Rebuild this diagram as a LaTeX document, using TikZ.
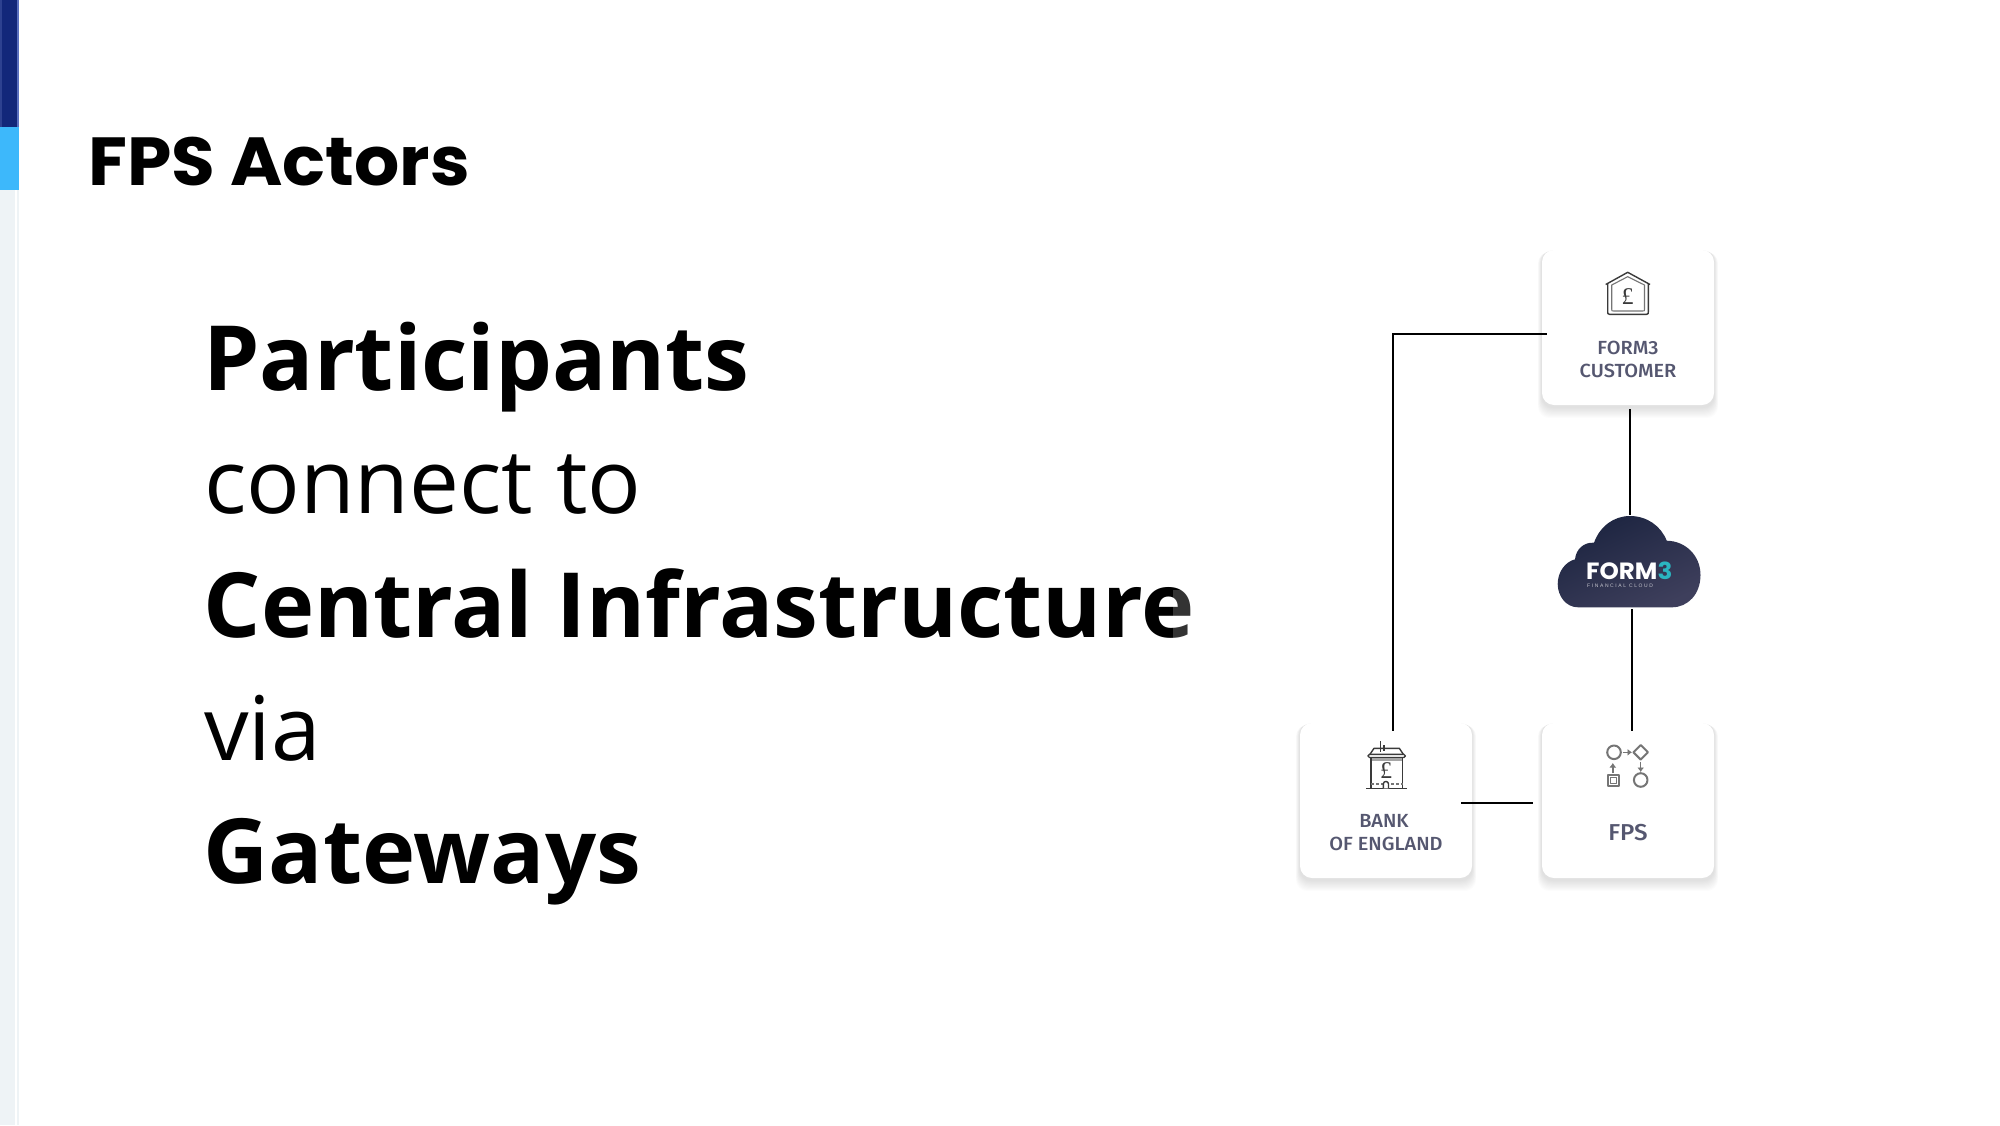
\documentclass[tikz,border=0pt]{standalone}
\usepackage{fontspec}
\usetikzlibrary{backgrounds,calc,arrows.meta}
\setmainfont{Open Sans}
\newfontfamily\titlefont{Poppins}[FakeStretch=1.045]
\newfontfamily\labelfont{Fira Sans Medium}[FakeStretch=1.05]
\newfontfamily\poundfont{Liberation Serif}
\newfontfamily\tinyfont{Liberation Sans}[LetterSpace=32]
\definecolor{sbdark}{HTML}{12277A}
\definecolor{sbedge}{HTML}{2D4190}
\definecolor{sbedgeb}{HTML}{5A70C0}
\definecolor{sblight}{HTML}{3DB8FB}
\definecolor{sbpale}{HTML}{EEF3F6}
\definecolor{labelc}{HTML}{555770}
\definecolor{clouda}{HTML}{1C2440}
\definecolor{cloudb}{HTML}{3E3F5C}
\definecolor{tealc}{HTML}{2BB5C0}
\definecolor{iconc}{HTML}{3A3A3A}
\tikzset{
  card/.style={rectangle,rounded corners=12pt,fill=white,minimum width=172pt,minimum height=155pt,inner sep=0pt},
  boldline/.style={anchor=base west,inner sep=0pt,font=\fontsize{90}{90}\selectfont\bfseries,text=black},
  lightline/.style={anchor=base west,inner sep=0pt,font=\fontsize{89}{89}\selectfont,text=black},
  cardlabel/.style={anchor=base,inner sep=0pt,font=\fontsize{19}{19}\selectfont\labelfont,text=labelc},
  link/.style={draw=black,line width=2pt},
  icon/.style={draw=iconc,line width=1.4pt,line join=round},
  iconthin/.style={draw=iconc!70,line width=1.1pt,line join=round},
  fpsicon/.style={draw=iconc!70,line width=2pt,line join=round},
  pound/.style={inner sep=0pt,text=iconc,font=\poundfont}
}
\newcommand{\softshadow}[1]{%
  \foreach \g in {1,...,10}{%
    \fill[black,opacity=0.011,rounded corners=12pt]
      ([shift={(-\g*0.4,\g*0.2)}]#1.north west) rectangle ([shift={(\g*0.4,\g*1.1+2)}]#1.south east);
  }%
}
\begin{document}
\begin{tikzpicture}[x=1pt,y=-1pt]
\useasboundingbox (0,0) rectangle (2000,1125);
% sidebar
\fill[sbpale] (0,190) rectangle (15,1125);
\fill[sbpale] (17,190) rectangle (19,1125);
\fill[sbdark] (0,0) rectangle (19,127);
\fill[sbedge] (0,0) rectangle (2,127);
\fill[sbedgeb] (17,0) rectangle (19,127);
\fill[sblight] (0,127) rectangle (19,190);
% title
\node[anchor=base west,inner sep=0pt,font=\fontsize{68}{68}\selectfont\titlefont\bfseries] (title) at (88,185) {FPS Actors};
% body
\node[boldline] (l1) at (203,390) {Participants};
\node[lightline] (l2) at (204,513) {connect to};
\node[boldline] (l3) at (203.5,637) {Central Infrastructure};
\node[lightline] (l4) at (204,760) {via};
\node[boldline] (l5) at (203.5,883) {Gateways};
\fill[white,opacity=0.2] (1173,590) rectangle (1200,645);
% cards
\node[card] (cust) at (1628,327.5) {};
\node[card] (bank) at (1386,800.5) {};
\node[card] (fps) at (1628,800.5) {};
\begin{scope}[on background layer]
  \fill[white] (0,0) rectangle (2000,1125);
  \softshadow{cust}
  \softshadow{bank}
  \softshadow{fps}
\end{scope}
\node[cardlabel] (custa) at (1628,354) {FORM3};
\node[cardlabel] (custb) at (1628,377) {CUSTOMER};
\node[cardlabel] (banka) at (1384,827) {BANK};
\node[cardlabel] (bankb) at (1386,850) {OF ENGLAND};
\node[cardlabel,font=\fontsize{23}{23}\selectfont\labelfont] (fpsl) at (1628,840.5) {FPS};
% cloud
\node[inner sep=0pt,minimum width=143pt,minimum height=91pt] (cloudn) at (1629.5,561.5) {};
\shade[top color=clouda,bottom color=cloudb,shading angle=25]
  (1578,607.3) .. controls (1566,607.3) and (1557.7,596) .. (1557.7,584)
  .. controls (1557.7,572) and (1565,562) .. (1575,559.3)
  .. controls (1576,549) and (1584,542) .. (1594,542.7)
  .. controls (1600,526) and (1614,516) .. (1630,516)
  .. controls (1647,516) and (1661,526) .. (1666.7,540.7)
  .. controls (1686,541) and (1700.5,556) .. (1700.5,575)
  .. controls (1700.5,594) and (1688,607.3) .. (1672,607.3) -- cycle;
\node[anchor=base west,inner sep=0pt,text=white,font=\fontsize{23.5}{23.5}\selectfont\titlefont\bfseries] (logo) at (1586,579) {FORM\textcolor{tealc}{3}};
\node[anchor=base west,inner sep=0pt,text=white!70!cloudb,font=\fontsize{5}{5}\selectfont\tinyfont] (logob) at (1587,587.5) {FINANCIAL CLOUD};
% connectors
\draw[link] ([shift={(7,8)}]bank.north) |- ([shift={(5,6.5)}]cust.west);
\draw[link] ([shift={(2,4)}]cust.south) -- ([shift={(0.5,-1)}]cloudn.north);
\draw[link] ([shift={(2.5,2)}]cloudn.south) -- ([shift={(4,8)}]fps.north);
\draw[link] ([shift={(-11,2.5)}]bank.east) -- ([shift={(-9,2.5)}]fps.west);
% house icon
\draw[icon] (1605.7,284.5) -- (1627.7,272.3) -- (1650,284.5);
\draw[icon] (1607.7,284) -- (1607.7,312) .. controls (1607.7,313.8) .. (1609.5,314.3) -- (1646.5,314.3) .. controls (1648.3,313.8) .. (1648.3,312) -- (1648.3,284);
\draw[iconthin] (1611.7,285) -- (1627.7,276.7) -- (1644.5,285) -- (1644.5,309) .. controls (1644.5,311) .. (1642.5,311) -- (1613.7,311) .. controls (1611.7,311) .. (1611.7,309) -- cycle;
\node[pound,font=\fontsize{24}{24}\selectfont\poundfont] (hp) at (1627.7,296.5) {£};
% bank icon
\draw[icon] (1366,788.3) -- (1406.7,788.3);
\draw[icon] (1371,757) -- (1371,788.3) (1402.7,757) -- (1402.7,788.3);
\draw[icon,rounded corners=1.5pt] (1368,754.3) rectangle (1405.3,757.5);
\fill[iconc!45] (1372,758) rectangle (1402,761);
\draw[icon] (1370,754.3) -- (1374,748.3) -- (1399.3,748.3) -- (1403.3,754.3);
\draw[icon] (1380.7,741) -- (1380.7,752) (1384,745) -- (1384,751);
\draw[iconthin,densely dashed] (1371,784) -- (1402.7,784);
\draw[icon,fill=white] (1383.3,788.3) -- (1383.3,784) arc[start angle=180,end angle=360,x radius=2.6,y radius=2.6] -- (1388.5,788.3);
\node[pound,font=\fontsize{24}{24}\selectfont\poundfont] (bp) at (1386,771) {£};
% FPS icon
\draw[fpsicon] (1614,752.3) circle[radius=6.8];
\draw[fpsicon] (1640.7,745) -- (1648,752.3) -- (1640.7,759.6) -- (1633.4,752.3) -- cycle;
\draw[fpsicon] (1607.8,774.8) rectangle (1619,786.4);
\draw[iconthin,line width=0.8pt] (1610.5,777.5) rectangle (1616.3,783.7);
\draw[fpsicon] (1640.7,780) circle[radius=6.8];
\draw[iconthin,line width=1.5pt,-{Latex[length=4.5pt,width=7pt]}] (1622.5,752.3) -- (1632,752.3);
\draw[iconthin,line width=1.5pt,-{Latex[length=4.5pt,width=7pt]}] (1612.8,773) -- (1612.8,763);
\draw[iconthin,line width=1.5pt,-{Latex[length=4.5pt,width=7pt]}] (1640.7,761.5) -- (1640.7,772);
\end{tikzpicture}
\end{document}
